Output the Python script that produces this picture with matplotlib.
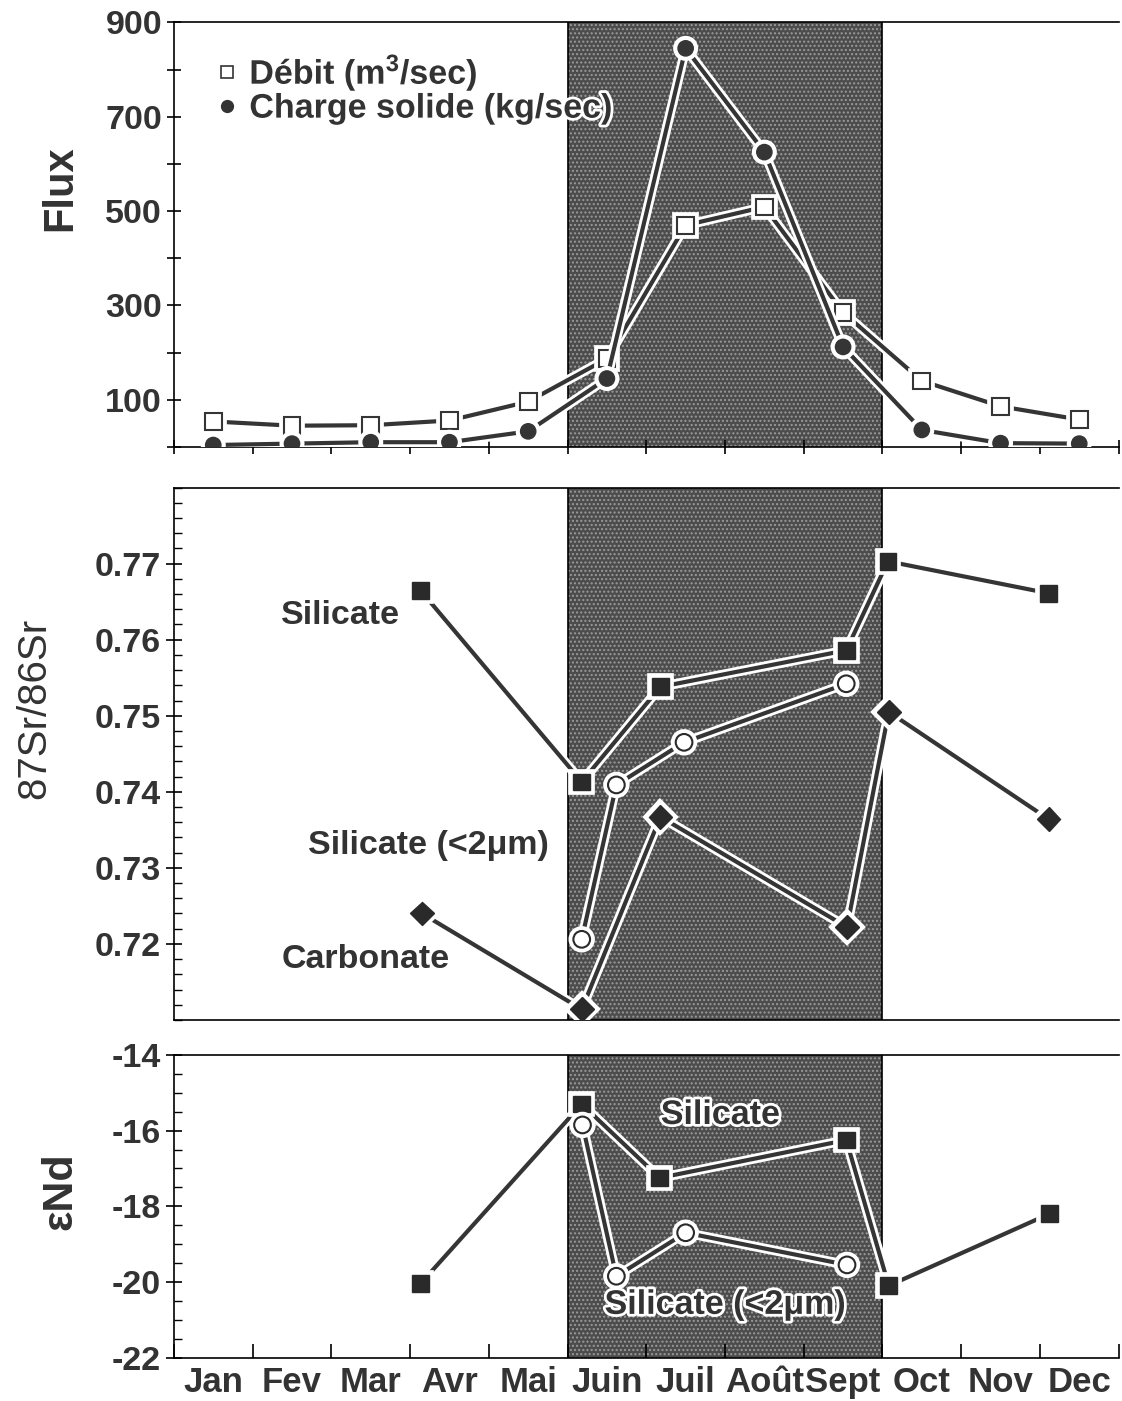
import numpy as np
import matplotlib
matplotlib.use('Agg')
import matplotlib.pyplot as plt
import matplotlib.patheffects as pe
from matplotlib.lines import Line2D
from matplotlib.ticker import MultipleLocator, FixedLocator

plt.rcParams['font.family'] = ['Liberation Sans', 'DejaVu Sans']
plt.rcParams['mathtext.fontset'] = 'custom'
plt.rcParams['mathtext.rm'] = 'Liberation Sans:bold'
plt.rcParams['mathtext.default'] = 'rm'

# month names, positions are month units (0 = start of Jan, 12 = end of Dec)
months = ['Jan', 'Fev', 'Mar', 'Avr', 'Mai', 'Juin', 'Juil', 'Août', 'Sept', 'Oct', 'Nov', 'Dec']
month_ticks = [0, 1, 2, 3, 4, 5, 6, 7, 8, 9, 10, 11, 12]
month_centers = [0.5, 1.5, 2.5, 3.5, 4.5, 5.5, 6.5, 7.5, 8.5, 9.5, 10.5, 11.5]
wet_season = (5, 9)  # Juin -> Sept

# flux panel
flux_x = [0.5, 1.5, 2.5, 3.5, 4.5, 5.5, 6.5, 7.5, 8.5, 9.5, 10.5, 11.5]
debit = [54, 45, 46, 56, 96, 187, 470, 509, 285, 140, 86, 58]
charge = [4, 7, 10, 10, 33, 145, 845, 625, 212, 36, 8, 7]

# 87Sr/86Sr panel
sr_sil_x = [3.13, 5.18, 6.18, 8.54, 9.07, 11.11]
sr_sil = [0.7665, 0.7413, 0.7538, 0.7586, 0.7703, 0.7661]
sr_fine_x = [5.18, 5.62, 6.48, 8.54]
sr_fine = [0.7206, 0.7409, 0.7465, 0.7542]
sr_carb_x = [3.15, 5.18, 6.18, 8.55, 9.08, 11.11]
sr_carb = [0.7240, 0.7114, 0.7367, 0.7222, 0.7505, 0.7364]

# eNd panel
nd_sil_x = [3.13, 5.18, 6.17, 8.54, 9.08, 11.12]
nd_sil = [-20.05, -15.3, -17.25, -16.25, -20.1, -18.2]
nd_fine_x = [5.19, 5.62, 6.5, 8.55]
nd_fine = [-15.85, -19.85, -18.7, -19.55]

line_col = '#353535'
txt_col = '#333333'
halo = [pe.Stroke(linewidth=7, foreground='white'), pe.Normal()]
txt_halo = [pe.Stroke(linewidth=4, foreground='white'), pe.Normal()]
tick_font = dict(fontsize=24.5, fontweight='bold', color=txt_col)

fig = plt.figure(figsize=(11.22, 14.01), dpi=100)
ax1 = fig.add_axes([0.155, 0.681, 0.842, 0.303])
ax2 = fig.add_axes([0.155, 0.272, 0.842, 0.380])
ax3 = fig.add_axes([0.155, 0.031, 0.842, 0.216])


def base(ax):
    ax.set_xlim(0, 12)
    ax.axvspan(wet_season[0], wet_season[1], facecolor='#4c4c4c', edgecolor='#9a9a9a',
               hatch='....', linewidth=0, zorder=0)
    for xv in wet_season:
        ax.axvline(xv, color='black', lw=1.2, zorder=1)
    ax.spines['right'].set_visible(False)
    for s in ['left', 'top', 'bottom']:
        ax.spines[s].set_linewidth(1.2)


# ---- Flux
base(ax1)
ax1.set_ylim(0, 900)
ax1.plot(flux_x, debit, color=line_col, lw=3, marker='s', ms=12, mfc='white',
         mec=line_col, mew=1.5, path_effects=halo, zorder=3)
ax1.plot(flux_x, charge, color=line_col, lw=3, marker='o', ms=11, mfc=line_col,
         mec=line_col, path_effects=halo, zorder=4)
ax1.yaxis.set_major_locator(FixedLocator([100, 300, 500, 700, 900]))
ax1.yaxis.set_minor_locator(MultipleLocator(100))
ax1.xaxis.set_major_locator(FixedLocator(month_ticks))
ax1.tick_params(axis='y', which='both', direction='inout', length=10, width=1.2)
ax1.tick_params(axis='x', direction='inout', length=10, width=1.2, labelbottom=False)
ax1.set_yticklabels(['100', '300', '500', '700', '900'], **tick_font)
ax1.text(-0.12, 0.61, 'Flux', transform=ax1.transAxes, rotation=90, ha='center',
         va='center', fontsize=30, fontweight='bold', color=txt_col)
handles = [Line2D([], [], ls='none', marker='s', ms=8.5, mfc='white', mec=txt_col, mew=1.2),
           Line2D([], [], ls='none', marker='o', ms=8.5, mfc=txt_col, mec=txt_col)]
leg = ax1.legend(handles, ['Débit (m$^{3}$/sec)', 'Charge solide (kg/sec)'], loc='upper left',
                 bbox_to_anchor=(0.042, 0.93), frameon=False, handlelength=0.8,
                 handletextpad=0.25, labelspacing=0.0, borderaxespad=0, borderpad=0,
                 prop=dict(size=24.5, weight='bold'))
for t in leg.get_texts():
    t.set_color(txt_col)
    t.set_path_effects(txt_halo)
leg.set_zorder(6)

# ---- 87Sr/86Sr
base(ax2)
ax2.set_ylim(0.71, 0.78)
ax2.plot(sr_sil_x, sr_sil, color=line_col, lw=3, marker='s', ms=12, mfc='#2a2a2a',
         mec='#2a2a2a', path_effects=halo, zorder=3)
ax2.plot(sr_fine_x, sr_fine, color=line_col, lw=3, marker='o', ms=12, mfc='white',
         mec='#2a2a2a', mew=1.5, path_effects=halo, zorder=4)
ax2.plot(sr_carb_x, sr_carb, color=line_col, lw=3, marker='D', ms=12, mfc='#2a2a2a',
         mec='#2a2a2a', path_effects=halo, zorder=3)
ax2.yaxis.set_major_locator(FixedLocator([0.72, 0.73, 0.74, 0.75, 0.76, 0.77]))
ax2.yaxis.set_minor_locator(MultipleLocator(0.002))
ax2.set_yticklabels(['0.72', '0.73', '0.74', '0.75', '0.76', '0.77'], **tick_font)
ax2.tick_params(axis='y', which='major', direction='inout', length=12, width=1.2)
ax2.tick_params(axis='y', which='minor', direction='in', length=6, width=1)
ax2.tick_params(axis='x', bottom=False, labelbottom=False)
ax2.text(-0.148, 0.585, '87Sr/86Sr', transform=ax2.transAxes, rotation=90, ha='center',
         va='center', fontsize=29, color=txt_col)
for s, xx, yy in [('Silicate', 2.11, 0.7632), ('Silicate (<2μm)', 3.23, 0.7329),
                  ('Carbonate', 2.44, 0.7180)]:
    ax2.text(xx, yy, s, ha='center', va='center', fontsize=24.5, fontweight='bold',
             color=txt_col, zorder=5)

# ---- eNd
base(ax3)
ax3.set_ylim(-22, -14)
ax3.plot(nd_sil_x, nd_sil, color=line_col, lw=3, marker='s', ms=12, mfc='#2a2a2a',
         mec='#2a2a2a', path_effects=halo, zorder=3)
ax3.plot(nd_fine_x, nd_fine, color=line_col, lw=3, marker='o', ms=12, mfc='white',
         mec='#2a2a2a', mew=1.5, path_effects=halo, zorder=4)
ax3.set_yticks([-22, -20, -18, -16, -14])
ax3.yaxis.set_minor_locator(MultipleLocator(0.5))
ax3.set_yticklabels(['-22', '-20', '-18', '-16', '-14'], **tick_font)
ax3.tick_params(axis='y', which='major', direction='inout', length=12, width=1.2)
ax3.tick_params(axis='y', which='minor', direction='in', length=6, width=1)
ax3.xaxis.set_major_locator(FixedLocator(month_ticks))
ax3.xaxis.set_minor_locator(FixedLocator(month_centers))
ax3.tick_params(axis='x', which='major', direction='in', length=10, width=1.2, labelbottom=False)
ax3.tick_params(axis='x', which='minor', length=0, pad=6)
ax3.set_xticklabels(months, minor=True, fontsize=25, fontweight='bold', color=txt_col)
ax3.text(-0.12, 0.55, 'εNd', transform=ax3.transAxes, rotation=90, ha='center',
         va='center', fontsize=31, fontweight='bold', color=txt_col)
for s, xx, yy in [('Silicate', 6.94, -15.6), ('Silicate (<2μm)', 7.0, -20.62)]:
    ax3.text(xx, yy, s, ha='center', va='center', fontsize=24.5, fontweight='bold',
             color=txt_col, path_effects=txt_halo, zorder=5)

fig.savefig('out.png', dpi=100)
